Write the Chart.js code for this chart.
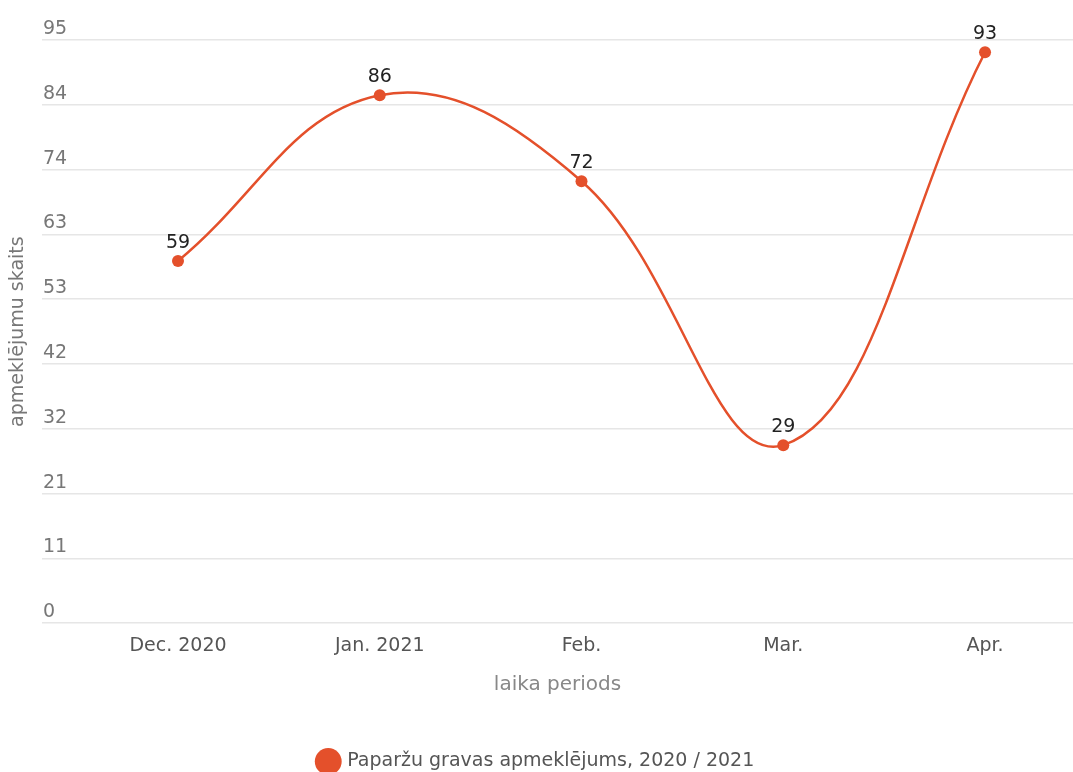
<!DOCTYPE html>
<html>
<head>
<meta charset="utf-8">
<script src="https://cdn.jsdelivr.net/npm/chart.js@4/dist/chart.umd.min.js"></script>
<style>
  html, body { margin: 0; padding: 0; background: #fff; overflow: hidden; }
  #wrap { width: 1073px; height: 781px; position: relative; }
</style>
</head>
<body>
<div id="wrap"><canvas id="grafiks"></canvas></div>
<script>
// dati
const kategorijas = ['Dec. 2020', 'Jan. 2021', 'Feb.', 'Mar.', 'Apr.'];
const apmeklejumi = [59, 86, 72, 29, 93];
const yTickLabels = ['0', '11', '21', '32', '42', '53', '63', '74', '84', '95'];
const yMax = 95;

const krasa = '#e4502b';
const fonts = 'DejaVu Sans';

// skaitļi virs punktiem
const vertibuUzraksti = {
    id: 'vertibuUzraksti',
    afterDatasetsDraw(chart) {
        const ctx = chart.ctx;
        const meta = chart.getDatasetMeta(0);
        ctx.save();
        ctx.font = '19px "DejaVu Sans"';
        ctx.fillStyle = '#222222';
        ctx.textAlign = 'center';
        ctx.textBaseline = 'middle';
        meta.data.forEach((pt, i) => {
            ctx.fillText(String(apmeklejumi[i]), pt.x, pt.y - 18);
        });
        ctx.restore();
    }
};

const ctx = document.getElementById('grafiks').getContext('2d');
new Chart(ctx, {
    type: 'line',
    data: {
        datasets: [{
            label: 'Paparžu gravas apmeklējums, 2020 / 2021',
            data: apmeklejumi.map((v, i) => ({ x: i, y: v })),
            borderColor: krasa,
            backgroundColor: krasa,
            borderWidth: 2.5,
            pointRadius: 6,
            pointHoverRadius: 6,
            pointBorderWidth: 0,
            tension: 0.4,
            fill: false
        }]
    },
    options: {
        responsive: true,
        maintainAspectRatio: false,
        animation: false,
        layout: { autoPadding: false, padding: { top: 40, right: 0, left: 0, bottom: 0 } },
        plugins: {
            legend: {
                position: 'bottom',
                labels: {
                    usePointStyle: true,
                    pointStyle: 'circle',
                    boxHeight: 19,
                    padding: 4,
                    color: '#555555',
                    font: { family: fonts, size: 19 }
                }
            },
            tooltip: { enabled: false }
        },
        scales: {
            x: {
                type: 'linear',
                min: -0.674,
                max: 4.436,
                afterBuildTicks: (scale) => {
                    scale.ticks = kategorijas.map((_, i) => ({ value: i }));
                },
                grid: { display: false },
                border: { display: false },
                ticks: {
                    color: '#555555',
                    font: { family: fonts, size: 19 },
                    padding: 3,
                    callback: (val) => kategorijas[val]
                },
                title: {
                    display: true,
                    text: 'laika periods',
                    color: '#888888',
                    font: { family: fonts, size: 20 },
                    padding: { top: 13, bottom: 51 }
                }
            },
            y: {
                min: 0,
                max: yMax,
                afterBuildTicks: (scale) => {
                    scale.ticks = yTickLabels.map((_, i) => ({ value: i * yMax / (yTickLabels.length - 1) }));
                },
                afterFit: (scale) => { scale.width = 42; },
                grid: { color: '#e6e6e6', lineWidth: 1.5, drawTicks: false },
                border: { display: false },
                ticks: {
                    mirror: true,
                    padding: 1,
                    labelOffset: -11,
                    color: '#777777',
                    font: { family: fonts, size: 19 },
                    callback: (val, idx) => yTickLabels[idx]
                },
                title: {
                    display: true,
                    text: 'apmeklējumu skaits',
                    color: '#777777',
                    font: { family: fonts, size: 19 },
                    padding: { top: 7, bottom: 0 }
                }
            }
        }
    },
    plugins: [vertibuUzraksti]
});
</script>
</body>
</html>
